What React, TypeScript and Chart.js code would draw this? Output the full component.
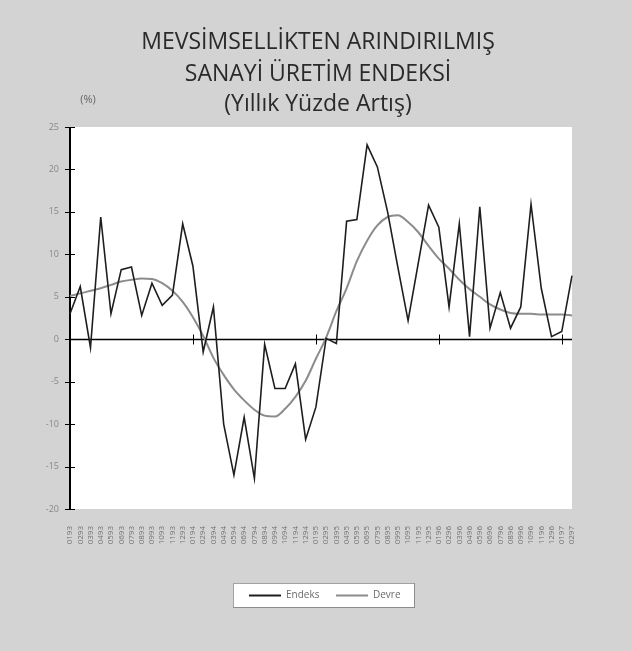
import React, { useEffect, useRef } from "react";
import { Chart, registerables } from "chart.js";
Chart.register(...registerables);

const categories = [
  "0193","0293","0393","0493","0593","0693","0793","0893","0993","1093","1193","1293",
  "0194","0294","0394","0494","0594","0694","0794","0894","0994","1094","1194","1294",
  "0195","0295","0395","0495","0595","0695","0795","0895","0995","1095","1195","1295",
  "0196","0296","0396","0496","0596","0696","0796","0896","0996","1096","1196","1296",
  "0197","0297",
];

const endeks = [
  3.0, 6.2, -1.0, 14.4, 3.0, 8.2, 8.5, 2.8, 6.6, 4.0, 5.2, 13.6,
  8.6, -1.5, 3.8, -10.0, -16.0, -9.2, -16.4, -0.6, -5.8, -5.8, -2.9, -11.8,
  -8.0, 0.1, -0.5, 13.9, 14.1, 22.9, 20.3, 15.0, 8.5, 2.2, 9.0, 15.8,
  13.2, 3.8, 13.6, 0.3, 15.6, 1.3, 5.5, 1.3, 3.8, 15.9, 6.0, 0.3,
  0.9, 7.5,
];

const devre = [
  5.1, 5.4, 5.7, 6.0, 6.4, 6.8, 7.0, 7.15, 7.1, 6.6, 5.7, 4.4,
  2.6, 0.4, -2.2, -4.2, -5.9, -7.2, -8.3, -9.0, -9.1, -8.2, -6.8, -4.9,
  -2.3, 0.2, 3.3, 6.0, 9.2, 11.6, 13.4, 14.4, 14.6, 13.8, 12.6, 11.0,
  9.5, 8.3, 7.0, 5.9, 5.0, 4.1, 3.5, 3.1, 3.0, 3.0, 2.9, 2.9,
  2.9, 2.8,
];

const yTicks = [-20, -15, -10, -5, 0, 5, 10, 15, 20, 25];
const yearTickLabels = ["0194", "0195", "0196", "0197"];

const titleLines = ["MEVSİMSELLİKTEN ARINDIRILMIŞ", "SANAYİ ÜRETİM ENDEKSİ", "(Yıllık Yüzde Artış)"];
const unitLabel = "(%)";
const seriesNames = ["Endeks", "Devre"];

const BG = "#d3d3d3";
const C_ENDEKS = "#1e1e1e";
const C_DEVRE = "#8c8c8c";
const FONT = "'Open Sans', 'DejaVu Sans', sans-serif";

const decor = {
  id: "decor",
  beforeDraw(chart: any) {
    const { ctx, chartArea } = chart;
    const { left, right, top, bottom } = chartArea;
    ctx.save();
    ctx.fillStyle = BG;
    ctx.fillRect(0, 0, chart.width, chart.height);
    ctx.fillStyle = "#ffffff";
    ctx.fillRect(left, top, right - left, bottom - top);

    // title
    ctx.fillStyle = "#2a2a2a";
    ctx.textAlign = "center";
    ctx.textBaseline = "middle";
    const ys = [42, 74, 104];
    titleLines.forEach((t, i) => {
      ctx.font = `500 23px ${FONT}`;
      ctx.fillText(t, 318, ys[i]);
    });
    // unit
    ctx.font = `11px ${FONT}`;
    ctx.fillStyle = "#666";
    ctx.fillText(unitLabel, 88, 100);
    ctx.restore();
  },
  beforeDatasetsDraw(chart: any) {
    const { ctx, chartArea, scales } = chart;
    const { left, right, top, bottom } = chartArea;
    const y = scales.y;
    const x = scales.x;
    ctx.save();
    ctx.strokeStyle = "#000";
    ctx.lineWidth = 2;
    ctx.beginPath();
    ctx.moveTo(left, top);
    ctx.lineTo(left, bottom);
    ctx.stroke();
    ctx.lineWidth = 1;
    yTicks.forEach((v) => {
      const py = Math.round(y.getPixelForValue(v)) + 0.5;
      ctx.beginPath();
      ctx.moveTo(left - 5, py);
      ctx.lineTo(left + 5, py);
      ctx.stroke();
    });
    const y0 = Math.round(y.getPixelForValue(0)) + 0.5;
    ctx.lineWidth = 1.5;
    ctx.beginPath();
    ctx.moveTo(left, y0);
    ctx.lineTo(right, y0);
    ctx.stroke();
    ctx.lineWidth = 1;
    yearTickLabels.forEach((lab) => {
      const idx = categories.indexOf(lab);
      const px = Math.round(x.getPixelForValue(idx)) + 0.5;
      ctx.beginPath();
      ctx.moveTo(px, y0 - 5);
      ctx.lineTo(px, y0 + 5);
      ctx.stroke();
    });
    ctx.restore();
  },
  afterDraw(chart: any) {
    const { ctx } = chart;
    ctx.save();
    const bx = 233, by = 583, bw = 181, bh = 24;
    ctx.fillStyle = "#ffffff";
    ctx.fillRect(bx, by, bw, bh);
    ctx.strokeStyle = "#444";
    ctx.lineWidth = 1;
    ctx.setLineDash([1, 1]);
    ctx.strokeRect(bx + 0.5, by + 0.5, bw, bh);
    ctx.setLineDash([]);
    const cy = by + bh / 2 + 0.5;
    const colors = [C_ENDEKS, C_DEVRE];
    const sx = [249, 336];
    ctx.font = `10px ${FONT}`;
    ctx.textAlign = "left";
    ctx.textBaseline = "middle";
    seriesNames.forEach((n, i) => {
      ctx.strokeStyle = colors[i];
      ctx.lineWidth = 2;
      ctx.beginPath();
      ctx.moveTo(sx[i], cy);
      ctx.lineTo(sx[i] + 32, cy);
      ctx.stroke();
      ctx.fillStyle = "#6a6a6a";
      ctx.fillText(n, sx[i] + 37, cy);
    });
    ctx.restore();
  },
};

export default function App() {
  const ref = useRef<HTMLCanvasElement>(null);
  useEffect(() => {
    if (!ref.current) return;
    const chart = new Chart(ref.current, {
      type: "line",
      data: {
        labels: categories,
        datasets: [
          {
            label: seriesNames[0],
            data: endeks,
            borderColor: C_ENDEKS,
            borderWidth: 1.6,
            pointRadius: 0,
            tension: 0,
            order: 1,
          },
          {
            label: seriesNames[1],
            data: devre,
            borderColor: C_DEVRE,
            borderWidth: 2,
            pointRadius: 0,
            tension: 0.4,
            cubicInterpolationMode: "monotone",
            order: 2,
          },
        ],
      },
      options: {
        responsive: false,
        animation: false,
        events: [],
        layout: { padding: { top: 127, right: 60, left: 0, bottom: 0 } },
        plugins: {
          legend: { display: false },
          title: { display: false },
          tooltip: { enabled: false },
        },
        scales: {
          x: {
            type: "category",
            offset: false,
            grid: { display: false, drawTicks: false },
            border: { display: false },
            ticks: {
              autoSkip: false,
              minRotation: 90,
              maxRotation: 90,
              padding: 17,
              color: "#707070",
              font: { size: 8, family: FONT },
            },
            afterFit(s: any) {
              s.height = 142;
            },
          },
          y: {
            min: -20,
            max: 25,
            grid: { display: false, drawTicks: false },
            border: { display: false },
            ticks: {
              stepSize: 5,
              padding: 11,
              color: "#888",
              font: { size: 9, family: FONT },
            },
            afterFit(s: any) {
              s.width = 70;
            },
          },
        },
      },
      plugins: [decor],
    });
    return () => chart.destroy();
  }, []);
  return (
    <div style={{ position: "absolute", left: 0, top: 0, width: 632, height: 651, background: BG }}>
      <canvas ref={ref} width={632} height={651} style={{ display: "block" }} />
    </div>
  );
}
